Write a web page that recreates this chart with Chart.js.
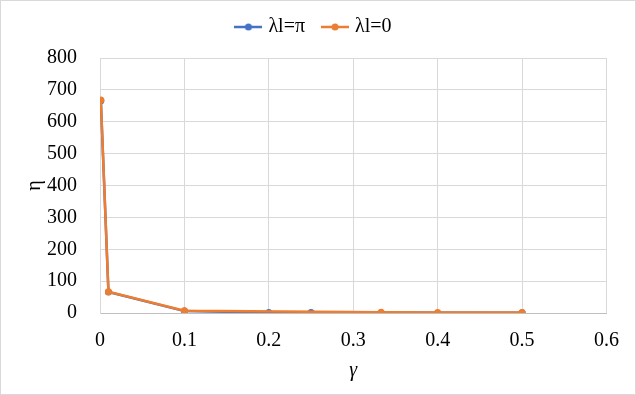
<!DOCTYPE html>
<html>
<head>
<meta charset="utf-8">
<style>
  body { margin: 0; background: #fff; }
  #wrap { width: 636px; height: 395px; box-sizing: border-box; border: 1px solid #d9d9d9; }
</style>
</head>
<body>
<div id="wrap">
  <canvas id="myChart" width="634" height="393"></canvas>
</div>
<script src="https://cdn.jsdelivr.net/npm/chart.js"></script>
<script>

const gammaPi = [0.001, 0.01, 0.1, 0.2, 0.25, 0.5];
const etaPi   = [666, 66, 6, 1.5, 1.2, 0.6];
const gammaZero = [0.001, 0.01, 0.1, 0.333, 0.4, 0.5];
const etaZero   = [668, 67, 7, 2, 1.6, 1.2];
const seriesNames = ['λl=π', 'λl=0'];
const seriesColors = ['#4472C4', '#ED7D31'];

function legendIcon(color) {
  var c = document.createElement('canvas');
  c.width = 28; c.height = 10;
  var ctx = c.getContext('2d');
  ctx.strokeStyle = color;
  ctx.lineWidth = 2.5;
  ctx.beginPath(); ctx.moveTo(0, 5); ctx.lineTo(28, 5); ctx.stroke();
  ctx.fillStyle = color;
  ctx.beginPath(); ctx.arc(14, 5, 3.5, 0, Math.PI * 2); ctx.fill();
  return c;
}

function toPoints(xs, ys) {
  return xs.map(function(x, i) { return { x: x, y: ys[i] } });
}

const datasets = [
  { label: seriesNames[0], data: toPoints(gammaPi, etaPi), order: 2 },
  { label: seriesNames[1], data: toPoints(gammaZero, etaZero), order: 1 }
].map(function(d, i) {
  d.borderColor = seriesColors[i];
  d.backgroundColor = seriesColors[i];
  d.borderWidth = 2.5;
  d.pointRadius = 3.5;
  d.pointBorderWidth = 0;
  d.pointStyle = 'circle';
  d.tension = 0;
  return d;
});

const font = { family: '"Liberation Serif", "Times New Roman", serif', size: 20 };

// extra room under the legend
const legendGap = {
  id: 'legendGap',
  beforeInit: function(chart) {
    var fit = chart.legend.fit;
    chart.legend.fit = function() {
      fit.call(this);
      this.height += 11;
    };
  }
};

const config = {
  type: 'line',
  data: { datasets: datasets },
  plugins: [legendGap],
  options: {
    responsive: false,
    animation: false,
    layout: { padding: { left: 22, right: 28, top: -4, bottom: 11 } },
    plugins: {
      legend: {
        position: 'top',
        labels: {
          font: font,
          color: '#000',
          usePointStyle: true,
          boxWidth: 28,
          padding: 20,
          generateLabels: function(chart) {
            return chart.data.datasets.map(function(d, i) {
              return {
                text: d.label,
                pointStyle: legendIcon(seriesColors[i]),
                fillStyle: seriesColors[i],
                strokeStyle: seriesColors[i],
                fontColor: '#000',
                lineWidth: 0,
                datasetIndex: i
              };
            });
          }
        }
      },
      tooltip: { enabled: false }
    },
    scales: {
      x: {
        type: 'linear',
        min: 0, max: 0.6,
        afterFit: function(scale) { scale.height = 70; },
        ticks: { stepSize: 0.1, font: font, color: '#000', padding: 16 },
        grid: { color: '#d9d9d9', drawTicks: false },
        border: { color: '#bfbfbf' },
        title: { display: true, text: 'γ', font: { family: font.family, size: 20, style: 'italic' }, color: '#000', padding: 0 }
      },
      y: {
        min: 0, max: 800,
        afterFit: function(scale) { scale.width = 77; },
        ticks: { stepSize: 100, font: font, color: '#000', padding: 23 },
        grid: { color: '#d9d9d9', drawTicks: false },
        border: { color: '#d9d9d9' },
        title: { display: true, text: 'η', font: font, color: '#000', padding: 0 }
      }
    }
  }
};

var chart = new Chart('myChart', config);

</script>
</body>
</html>
